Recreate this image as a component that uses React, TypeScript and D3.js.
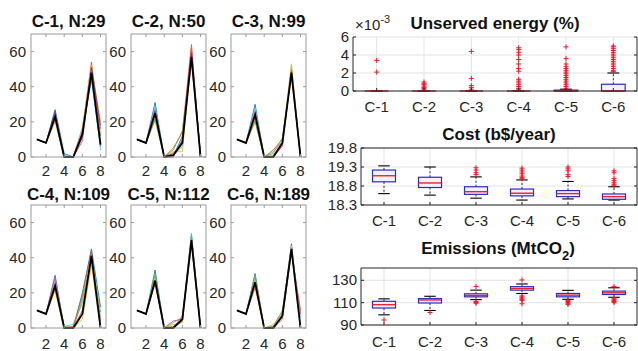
import React from 'react'
import * as d3 from 'd3'

// ---- left: cluster profiles ----
const steps = [1, 2, 3, 4, 5, 6, 7, 8]
const clusterTitles = ['C-1, N:29', 'C-2, N:50', 'C-3, N:99', 'C-4, N:109', 'C-5, N:112', 'C-6, N:189']
const profileTicksY = [0, 20, 40, 60]
const profileTicksX = [2, 4, 6, 8]

const c1Runs = [
  [10, 8, 27, 2, 0, 15, 44, 6],
  [10, 8, 25, 1, 0, 17, 46, 4],
  [10, 8, 21, 0, 0, 15, 54, 12],
  [10, 8, 20, 0, 0, 16, 52, 20],
  [10, 8, 22, 0, 0, 9, 50, 16],
  [10, 8, 24, 0, 0, 12, 47, 8],
  [10, 8, 26, 0, 0, 11, 51, 18]
]
const c1Mean = [10, 8, 23, 0, 0, 13, 48, 7]

const c2Runs = [
  [10, 8, 31, 0, 0, 12, 60, 0],
  [10, 8, 29, 0, 1, 6, 56, 0],
  [10, 8, 22, 0, 5, 14, 64, 0],
  [10, 8, 24, 0, 3, 3, 58, 2],
  [10, 8, 27, 0, 0, 10, 62, 0],
  [10, 8, 21, 0, 4, 15, 55, 0],
  [10, 8, 26, 0, 2, 9, 59, 1]
]
const c2Mean = [10, 8, 25, 0, 1, 8, 57, 0]

const c3Runs = [
  [10, 8, 30, 0, 0, 7, 50, 0],
  [10, 8, 28, 0, 3, 9, 52, 0],
  [10, 8, 21, 0, 4, 10, 46, 0],
  [10, 8, 22, 0, 1, 9, 53, 0],
  [10, 8, 26, 0, 0, 6, 49, 0],
  [10, 8, 20, 0, 2, 11, 47, 0]
]
const c3Mean = [10, 8, 24, 0, 0, 8, 48, 0]

const c4Runs = [
  [10, 8, 30, 0, 0, 20, 45, 12],
  [10, 8, 27, 1, 2, 14, 38, 6],
  [10, 8, 22, 0, 1, 18, 44, 0],
  [10, 8, 21, 0, 0, 5, 36, 0],
  [10, 8, 29, 0, 0, 10, 42, 4],
  [10, 8, 25, 1, 0, 16, 40, 9]
]
const c4Mean = [10, 8, 24, 0, 0, 8, 41, 0]

const c5Runs = [
  [10, 8, 33, 0, 0, 4, 53, 0],
  [10, 8, 30, 0, 3, 6, 54, 0],
  [10, 8, 25, 0, 4, 5, 47, 0],
  [10, 8, 28, 0, 2, 3, 50, 0],
  [10, 8, 26, 0, 0, 7, 49, 0],
  [10, 8, 31, 0, 1, 5, 52, 0]
]
const c5Mean = [10, 8, 27, 0, 0, 5, 50, 0]

const c6Runs = [
  [10, 8, 31, 0, 0, 7, 48, 0],
  [10, 8, 29, 0, 1, 9, 46, 6],
  [10, 8, 23, 0, 0, 6, 43, 10],
  [10, 8, 27, 0, 2, 8, 47, 0],
  [10, 8, 25, 0, 0, 5, 44, 8],
  [10, 8, 30, 0, 1, 10, 45, 0]
]
const c6Mean = [10, 8, 26, 0, 0, 7, 45, 0]

const clusterRuns = [c1Runs, c2Runs, c3Runs, c4Runs, c5Runs, c6Runs]
const clusterMeans = [c1Mean, c2Mean, c3Mean, c4Mean, c5Mean, c6Mean]
const runColors = ['#0072BD', '#4DBEEE', '#D95319', '#EDB120', '#E8467C', '#77AC30', '#7E2F8E']

// ---- right: box plots ----
const categories = ['C-1', 'C-2', 'C-3', 'C-4', 'C-5', 'C-6']

const unservedQ1 = [0, 0, 0, 0, 0, 0]
const unservedMed = [0, 0, 0, 0, 0, 0]
const unservedQ3 = [0, 0, 0, 0, 0.1, 0.75]
const unservedLo = [0, 0, 0, 0, 0, 0]
const unservedHi = [0, 0, 0, 0, 0.2, 2.0]
const unservedOut = [
  [3.4, 2.1],
  [1.0, 0.85, 0.7, 0.55, 0.4, 0.3, 0.2],
  [4.4, 1.4, 0.6, 0.4, 0.2],
  [4.8, 4.6, 4.3, 4.0, 3.5, 3.0, 2.5, 2.2, 1.3, 1.1, 0.9, 0.7, 0.5, 0.3, 0.2],
  [4.9, 3.6, 3.0, 2.7, 2.5, 2.3, 2.1, 1.9, 1.7, 1.5, 1.3, 1.1, 0.9, 0.7, 0.5, 0.3],
  [5.0, 4.9, 4.7, 4.5, 4.3, 4.1, 3.9, 3.7, 3.5, 3.3, 3.1, 2.9, 2.7, 2.5, 2.3, 2.15]
]

const costQ1 = [18.91, 18.76, 18.58, 18.54, 18.52, 18.45]
const costMed = [19.07, 18.88, 18.65, 18.61, 18.6, 18.52]
const costQ3 = [19.22, 19.03, 18.78, 18.72, 18.68, 18.59]
const costLo = [18.6, 18.56, 18.48, 18.43, 18.46, 18.43]
const costHi = [19.33, 19.3, 19.04, 18.96, 18.92, 18.78]
const costOut = [
  [],
  [],
  [19.28, 19.22, 19.15, 19.1],
  [19.27, 19.22, 19.17, 19.12, 19.06, 19.02, 18.99],
  [19.3, 19.25, 19.2, 19.1, 19.05],
  [19.2, 19.15, 19.0, 18.95, 18.9, 18.85, 18.82]
]

const emisQ1 = [105.2, 109.7, 115.2, 121.2, 115.2, 117.3]
const emisMed = [108.2, 112.4, 116.4, 122.7, 116.7, 118.8]
const emisQ3 = [111.2, 113.6, 117.9, 124.3, 118.2, 120.3]
const emisLo = [99.1, 103, 112.7, 118.2, 113, 114.8]
const emisHi = [113.4, 115.7, 121.2, 126.7, 121, 123.3]
const emisOut = [
  [94.5],
  [101.2],
  [124.5, 111, 110, 109.5],
  [130.3, 116, 115, 114, 113, 112, 109],
  [112, 111, 110, 109, 108.5],
  [124.5, 114, 113, 112, 111, 110]
]

const FONT = 'Liberation Sans, Arial, sans-serif'
const TXT = '#262626'

function ProfilePanel({ idx }: { idx: number }) {
  const col = idx % 3
  const row = Math.floor(idx / 3)
  const left = 31 + col * 100
  const top = row === 0 ? 34 : 205
  const w = 75
  const h = 123
  const x = d3.scaleLinear().domain([0.35, 8.6]).range([left, left + w])
  const y = d3.scaleLinear().domain([0, 70]).range([top + h, top])
  const line = d3
    .line<number>()
    .x((d, i) => x(steps[i]))
    .y(d => y(d))
  const titleY = row === 0 ? 27 : 200
  const tickLblY = row === 0 ? 176 : 349
  return (
    <g>
      <text x={left + w / 2} y={titleY} textAnchor="middle" fontSize={17} fontWeight="bold" fill="#111">
        {clusterTitles[idx]}
      </text>
      <rect x={left} y={top} width={w} height={h} fill="#fff" />
      {clusterRuns[idx].map((r, i) => (
        <path key={i} d={line(r) || ''} fill="none" stroke={runColors[i % runColors.length]} strokeWidth={1} opacity={0.85} />
      ))}
      <path d={line(clusterMeans[idx]) || ''} fill="none" stroke="#000" strokeWidth={1.8} />
      <rect x={left} y={top} width={w} height={h} fill="none" stroke="#9a9a9a" strokeWidth={1} />
      {profileTicksY.map(t => (
        <g key={t}>
          <line x1={left} x2={left + 3} y1={y(t)} y2={y(t)} stroke="#9a9a9a" />
          <line x1={left + w - 3} x2={left + w} y1={y(t)} y2={y(t)} stroke="#9a9a9a" />
          <text x={left - 5} y={y(t) + 5} textAnchor="end" fontSize={15} fill={TXT}>
            {t}
          </text>
        </g>
      ))}
      {profileTicksX.map(t => (
        <g key={t}>
          <line x1={x(t)} x2={x(t)} y1={top + h} y2={top + h - 3} stroke="#9a9a9a" />
          <line x1={x(t)} x2={x(t)} y1={top} y2={top + 3} stroke="#9a9a9a" />
          <text x={x(t)} y={tickLblY} textAnchor="middle" fontSize={15} fill={TXT}>
            {t}
          </text>
        </g>
      ))}
    </g>
  )
}

type BoxProps = {
  left: number
  top: number
  bottom: number
  domain: [number, number]
  ticks: number[]
  fmt: (v: number) => string
  q1: number[]
  med: number[]
  q3: number[]
  lo: number[]
  hi: number[]
  out: number[][]
  labelY: number
  drawTop?: boolean
}

function BoxPanel(p: BoxProps) {
  const right = 637
  const x = d3.scalePoint<string>().domain(categories).range([p.left, right]).padding(0.5)
  const step = x.step()
  const bw = step * 0.5
  const y = d3.scaleLinear().domain(p.domain).range([p.bottom, p.top])
  const ax = '#262626'
  return (
    <g>
      <rect x={p.left} y={p.top} width={right - p.left} height={p.bottom - p.top} fill="#fff" />
      {categories.map(c => (
        <line key={c} x1={x(c)} x2={x(c)} y1={p.top} y2={p.bottom} stroke="#e3e3e3" />
      ))}
      {p.ticks.map(t => (
        <line key={t} x1={p.left} x2={right} y1={y(t)} y2={y(t)} stroke="#e3e3e3" />
      ))}
      {categories.map((c, i) => {
        const cx = x(c) as number
        return (
          <g key={c}>
            <line x1={cx} x2={cx} y1={y(p.q3[i])} y2={y(p.hi[i])} stroke="#000" strokeDasharray="2,2" strokeWidth={0.8} />
            <line x1={cx} x2={cx} y1={y(p.q1[i])} y2={y(p.lo[i])} stroke="#000" strokeDasharray="2,2" strokeWidth={0.8} />
            <line x1={cx - bw / 4} x2={cx + bw / 4} y1={y(p.hi[i])} y2={y(p.hi[i])} stroke="#000" strokeWidth={1.1} />
            <line x1={cx - bw / 4} x2={cx + bw / 4} y1={y(p.lo[i])} y2={y(p.lo[i])} stroke="#000" strokeWidth={1.1} />
            <rect
              x={cx - bw / 2}
              y={y(p.q3[i])}
              width={bw}
              height={Math.max(0, y(p.q1[i]) - y(p.q3[i]))}
              fill="#f4f0fb"
              stroke="#2b2bbf"
              strokeWidth={1.2}
            />
            <line x1={cx - bw / 2} x2={cx + bw / 2} y1={y(p.med[i])} y2={y(p.med[i])} stroke="#ee2030" strokeWidth={1.4} />
            {p.out[i].map((v, j) => (
              <g key={j} stroke="#f01828" strokeWidth={1}>
                <line x1={cx - 2.5} x2={cx + 2.5} y1={y(v)} y2={y(v)} />
                <line x1={cx} x2={cx} y1={y(v) - 2.5} y2={y(v) + 2.5} />
              </g>
            ))}
          </g>
        )
      })}
      <line x1={p.left} x2={p.left} y1={p.top} y2={p.bottom} stroke={ax} />
      <line x1={p.left} x2={right} y1={p.bottom} y2={p.bottom} stroke={ax} />
      <line x1={right} x2={right} y1={p.top} y2={p.bottom} stroke={ax} />
      {p.drawTop !== false && <line x1={p.left} x2={right} y1={p.top} y2={p.top} stroke={ax} />}
      {p.ticks.map(t => (
        <g key={t}>
          <line x1={p.left} x2={p.left + 3} y1={y(t)} y2={y(t)} stroke={ax} />
          <line x1={right - 3} x2={right} y1={y(t)} y2={y(t)} stroke={ax} />
          <text x={p.left - 4} y={y(t) + 5} textAnchor="end" fontSize={15} fill={TXT}>
            {p.fmt(t)}
          </text>
        </g>
      ))}
      {categories.map(c => (
        <g key={c}>
          <line x1={x(c)} x2={x(c)} y1={p.bottom} y2={p.bottom - 3} stroke={ax} />
          <text x={x(c)} y={p.labelY} textAnchor="middle" fontSize={15} fill={TXT}>
            {c}
          </text>
        </g>
      ))}
    </g>
  )
}

export default function App() {
  return (
    <svg width={638} height={351} style={{ position: 'absolute', left: 0, top: 0 }} fontFamily={FONT}>
      <rect width={638} height={351} fill="#fff" />
      {clusterTitles.map((t, i) => (
        <ProfilePanel key={t} idx={i} />
      ))}

      <text x={355} y={30} fontSize={15} fill={TXT}>
        ×10
        <tspan dy={-7} fontSize={11}>
          -3
        </tspan>
      </text>
      <text x={495} y={29} textAnchor="middle" fontSize={17} fontWeight="bold" fill="#111">
        Unserved energy (%)
      </text>
      <BoxPanel
        left={353}
        top={37}
        bottom={91}
        domain={[0, 6]}
        ticks={[0, 2, 4, 6]}
        fmt={v => String(v)}
        q1={unservedQ1}
        med={unservedMed}
        q3={unservedQ3}
        lo={unservedLo}
        hi={unservedHi}
        out={unservedOut}
        labelY={112}
        drawTop={false}
      />

      <text x={499} y={140} textAnchor="middle" fontSize={17} fontWeight="bold" fill="#111">
        Cost (b$/year)
      </text>
      <BoxPanel
        left={361}
        top={148}
        bottom={205}
        domain={[18.3, 19.8]}
        ticks={[18.3, 18.8, 19.3, 19.8]}
        fmt={v => v.toFixed(1)}
        q1={costQ1}
        med={costMed}
        q3={costQ3}
        lo={costLo}
        hi={costHi}
        out={costOut}
        labelY={226}
      />

      <text x={498} y={254} textAnchor="middle" fontSize={17} fontWeight="bold" fill="#111">
        Emissions (MtCO
        <tspan dy={6} fontSize={13}>
          2
        </tspan>
        <tspan dy={-6}>)</tspan>
      </text>
      <BoxPanel
        left={361}
        top={268}
        bottom={325}
        domain={[90, 141]}
        ticks={[90, 110, 130]}
        fmt={v => String(v)}
        q1={emisQ1}
        med={emisMed}
        q3={emisQ3}
        lo={emisLo}
        hi={emisHi}
        out={emisOut}
        labelY={347}
      />
    </svg>
  )
}
